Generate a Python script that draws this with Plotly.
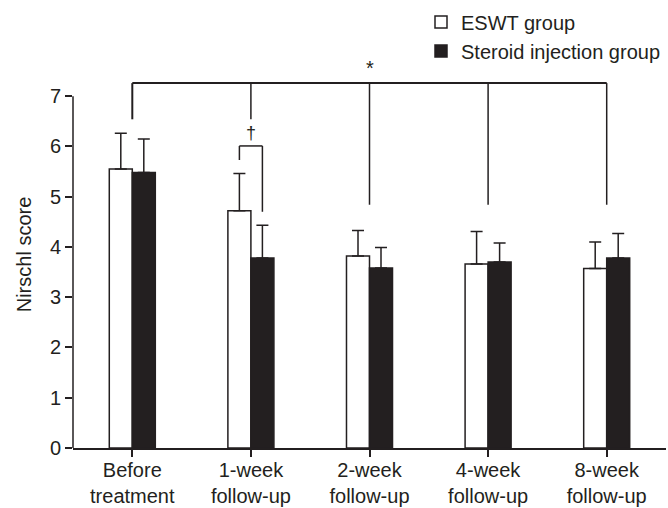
import plotly.graph_objects as go

categories = ["Before<br>treatment", "1-week<br>follow-up", "2-week<br>follow-up",
              "4-week<br>follow-up", "8-week<br>follow-up"]
eswt_mean = [5.55, 4.72, 3.82, 3.66, 3.57]
eswt_sd = [0.71, 0.74, 0.51, 0.65, 0.53]
steroid_mean = [5.48, 3.78, 3.58, 3.70, 3.78]
steroid_sd = [0.67, 0.65, 0.41, 0.38, 0.49]
y_ticks = [0, 1, 2, 3, 4, 5, 6, 7]

# significance annotation levels (data units)
star_line_level = 7.26
star_drop_high = 6.54   # end of drops for first two groups
star_drop_low = 4.84    # end of drops for later groups
star_text_level = 7.56
dagger_top = 6.01
dagger_left_end = 5.73
dagger_right_end = 4.70
dagger_text_level = 6.27

INK = "#231f20"
FONT = "Liberation Sans, Arial, Helvetica, sans-serif"
BARGAP = 0.612
half = (1 - BARGAP) / 4  # offset from category centre to each bar centre

fig = go.Figure()
fig.add_trace(go.Bar(
    name="ESWT group", x=list(range(5)), y=eswt_mean,
    marker=dict(color="white", line=dict(color=INK, width=1.5)),
    error_y=dict(type="data", array=eswt_sd, arrayminus=[0] * 5, symmetric=False,
                 color=INK, thickness=1.5, width=6),
))
fig.add_trace(go.Bar(
    name="Steroid injection group", x=list(range(5)), y=steroid_mean,
    marker=dict(color=INK, line=dict(color=INK, width=1.5)),
    error_y=dict(type="data", array=steroid_sd, arrayminus=[0] * 5, symmetric=False,
                 color=INK, thickness=1.5, width=6),
))

shapes = []
# y-axis line from 0 to 7
shapes.append(dict(type="line", xref="paper", yref="y", x0=0, x1=0,
                   y0=y_ticks[0], y1=y_ticks[-1], line=dict(color=INK, width=1.5)))
# star bracket
shapes.append(dict(type="line", xref="x", yref="y", x0=0, x1=4,
                   y0=star_line_level, y1=star_line_level, line=dict(color=INK, width=2)))
for i in range(5):
    end = star_drop_high if i < 2 else star_drop_low
    shapes.append(dict(type="line", xref="x", yref="y", x0=i, x1=i,
                       y0=star_line_level, y1=end,
                       line=dict(color=INK, width=2 if i == 0 else 1.5)))
# dagger bracket over 1-week group
shapes.append(dict(type="line", xref="x", yref="y", x0=1 - half, x1=1 - half,
                   y0=dagger_left_end, y1=dagger_top, line=dict(color=INK, width=1.5)))
shapes.append(dict(type="line", xref="x", yref="y", x0=1 - half, x1=1 + half,
                   y0=dagger_top, y1=dagger_top, line=dict(color=INK, width=1.5)))
shapes.append(dict(type="line", xref="x", yref="y", x0=1 + half, x1=1 + half,
                   y0=dagger_top, y1=dagger_right_end, line=dict(color=INK, width=1.5)))

annotations = [
    dict(x=2, y=star_text_level, xref="x", yref="y", text="*", showarrow=False,
         font=dict(size=20, color=INK, family=FONT)),
    dict(x=1, y=dagger_text_level, xref="x", yref="y", text="†", showarrow=False,
         font=dict(size=18, color=INK, family=FONT)),
]

fig.update_layout(
    width=668, height=508,
    margin=dict(l=73, r=2, t=61, b=60, autoexpand=False),
    paper_bgcolor="white", plot_bgcolor="white",
    barmode="group", bargap=BARGAP, bargroupgap=0,
    font=dict(family=FONT, size=20, color=INK),
    shapes=shapes, annotations=annotations,
    showlegend=True,
    legend=dict(x=1, xanchor="right", y=0.995, yanchor="top", yref="container",
                bgcolor="rgba(0,0,0,0)", borderwidth=0,
                font=dict(size=20, color=INK, family=FONT),
                tracegroupgap=0),
    xaxis=dict(tickmode="array", tickvals=list(range(5)), ticktext=categories,
               range=[-0.5, 4.5], showline=True, linecolor=INK, linewidth=1.5,
               ticks="outside", ticklen=7, tickwidth=1.5, tickcolor=INK,
               showgrid=False, zeroline=False, automargin=False,
               ticklabelstandoff=-4,
               tickfont=dict(size=20, color=INK, family=FONT)),
    yaxis=dict(range=[0, 7.7], tickmode="array", tickvals=y_ticks,
               showline=False, ticks="outside", ticklen=7, tickwidth=1.5, tickcolor=INK,
               showgrid=False, zeroline=False, automargin=False,
               title=dict(text="Nirschl score", standoff=12,
                          font=dict(size=20, color=INK, family=FONT)),
               tickfont=dict(size=20, color=INK, family=FONT)),
)

fig.write_html("out.html", config={"displayModeBar": False},
               post_script="document.body.style.margin='0';document.body.style.padding='0';")
